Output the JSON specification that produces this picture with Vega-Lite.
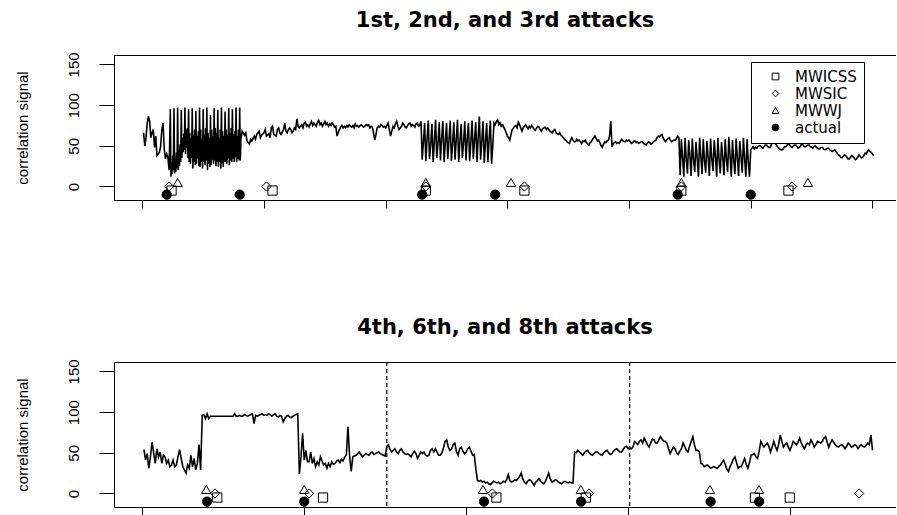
{
"$schema": "https://vega.github.io/schema/vega-lite/v6.json",
"padding": {"left": 14, "top": 9, "right": 0, "bottom": 0},
"autosize": {"type": "pad"},
"background": "white",
"config": {
 "view": {"stroke": null},
 "axis": {"grid": false, "domainColor": "black", "tickColor": "black", "labelColor": "black", "titleColor": "black", "labelFont": "Liberation Sans", "titleFont": "Liberation Sans", "labelFontSize": 15, "titleFontSize": 15, "titleFontWeight": "normal", "domainWidth": 1, "tickWidth": 1}
},
"datasets": {
 "top": [
{"t":1,"v":66},{"t":2,"v":50},{"t":3,"v":60},{"t":4,"v":78},{"t":5,"v":86},{"t":6,"v":80},{"t":7,"v":60},{"t":8,"v":66},{"t":9,"v":70},{"t":10,"v":48},{"t":11,"v":62},{"t":12,"v":38},{"t":13,"v":40},{"t":14,"v":42},{"t":15,"v":49},{"t":16,"v":70},{"t":17,"v":78},{"t":18,"v":46},{"t":19,"v":34},{"t":20,"v":40},{"t":21,"v":36},{"t":22,"v":20},
{"t":23,"v":95},{"t":23.5,"v":12},{"t":24,"v":30},{"t":24.5,"v":15},{"t":25,"v":38},{"t":25.5,"v":20},
{"t":26,"v":96},{"t":26.5,"v":16},{"t":27,"v":34},{"t":27.5,"v":18},{"t":28,"v":42},{"t":28.5,"v":22},
{"t":29,"v":97},{"t":29.5,"v":20},{"t":30,"v":45},{"t":30.5,"v":25},{"t":31,"v":52},{"t":31.5,"v":30},
{"t":32,"v":94},{"t":32.5,"v":35},{"t":33,"v":60},{"t":33.5,"v":42},{"t":34,"v":65},{"t":34.5,"v":45},
{"t":35,"v":97},{"t":35.5,"v":40},{"t":36,"v":70},{"t":36.5,"v":48},{"t":37,"v":72},{"t":37.5,"v":35},
{"t":38,"v":95},{"t":38.5,"v":30},{"t":39,"v":66},{"t":39.5,"v":28},{"t":40,"v":60},{"t":40.5,"v":35},
{"t":41,"v":96},{"t":41.5,"v":22},{"t":42,"v":64},{"t":42.5,"v":30},{"t":43,"v":70},{"t":43.5,"v":26},
{"t":44,"v":93},{"t":44.5,"v":28},{"t":45,"v":62},{"t":45.5,"v":34},{"t":46,"v":68},{"t":46.5,"v":25},
{"t":47,"v":97},{"t":47.5,"v":24},{"t":48,"v":70},{"t":48.5,"v":30},{"t":49,"v":58},{"t":49.5,"v":22},
{"t":50,"v":95},{"t":50.5,"v":30},{"t":51,"v":64},{"t":51.5,"v":26},{"t":52,"v":72},{"t":52.5,"v":32},
{"t":53,"v":97},{"t":53.5,"v":20},{"t":54,"v":66},{"t":54.5,"v":28},{"t":55,"v":60},{"t":55.5,"v":24},
{"t":56,"v":88},{"t":56.5,"v":26},{"t":57,"v":70},{"t":57.5,"v":33},{"t":58,"v":62},{"t":58.5,"v":28},
{"t":59,"v":96},{"t":59.5,"v":32},{"t":60,"v":72},{"t":60.5,"v":25},{"t":61,"v":66},{"t":61.5,"v":30},
{"t":62,"v":94},{"t":62.5,"v":24},{"t":63,"v":60},{"t":63.5,"v":30},{"t":64,"v":70},{"t":64.5,"v":22},
{"t":65,"v":97},{"t":65.5,"v":28},{"t":66,"v":68},{"t":66.5,"v":24},{"t":67,"v":62},{"t":67.5,"v":30},
{"t":68,"v":92},{"t":68.5,"v":30},{"t":69,"v":70},{"t":69.5,"v":28},{"t":70,"v":64},{"t":70.5,"v":34},
{"t":71,"v":96},{"t":71.5,"v":26},{"t":72,"v":66},{"t":72.5,"v":32},{"t":73,"v":72},{"t":73.5,"v":30},
{"t":74,"v":95},{"t":74.5,"v":34},{"t":75,"v":64},{"t":75.5,"v":30},{"t":76,"v":68},{"t":76.5,"v":36},
{"t":77,"v":97},{"t":77.5,"v":30},{"t":78,"v":62},{"t":78.5,"v":34},{"t":79,"v":70},{"t":79.5,"v":32},
{"t":80,"v":97},{"t":80.5,"v":32},{"t":81,"v":58},
{"t":82,"v":68},{"t":84,"v":63},{"t":85,"v":66},{"t":86,"v":56},{"t":88,"v":52},{"t":89,"v":58},{"t":90,"v":56},{"t":92,"v":62},{"t":93,"v":58},{"t":94,"v":64},{"t":96,"v":68},{"t":97,"v":60},{"t":98,"v":63},{"t":100,"v":66},{"t":101,"v":70},{"t":102,"v":62},{"t":104,"v":65},{"t":105,"v":60},{"t":106,"v":72},{"t":107,"v":74},{"t":108,"v":64},{"t":110,"v":62},{"t":111,"v":70},{"t":112,"v":72},{"t":113,"v":66},{"t":114,"v":64},{"t":116,"v":70},{"t":117,"v":78},{"t":118,"v":68},{"t":119,"v":66},{"t":120,"v":70},{"t":121,"v":72},{"t":122,"v":70},{"t":123,"v":66},{"t":124,"v":68},{"t":125,"v":72},{"t":126,"v":70},{"t":127,"v":83},{"t":128,"v":74},{"t":129,"v":72},{"t":130,"v":74},{"t":131,"v":76},{"t":132,"v":72},{"t":133,"v":78},{"t":134,"v":79},{"t":135,"v":74},{"t":136,"v":76},{"t":137,"v":73},{"t":138,"v":77},{"t":139,"v":80},{"t":140,"v":75},{"t":141,"v":78},{"t":142,"v":76},{"t":143,"v":74},{"t":144,"v":79},{"t":145,"v":81},{"t":146,"v":76},{"t":147,"v":78},{"t":148,"v":74},{"t":149,"v":77},{"t":150,"v":80},{"t":151,"v":76},{"t":152,"v":78},{"t":153,"v":74},{"t":154,"v":77},{"t":155,"v":75},{"t":156,"v":78},{"t":157,"v":76},{"t":158,"v":73},{"t":159,"v":74},{"t":160,"v":62},{"t":161,"v":66},{"t":162,"v":70},{"t":163,"v":73},{"t":164,"v":75},{"t":165,"v":72},{"t":166,"v":74},{"t":167,"v":72},{"t":168,"v":75},{"t":169,"v":73},{"t":170,"v":76},{"t":171,"v":74},{"t":172,"v":73},{"t":173,"v":75},{"t":174,"v":72},{"t":175,"v":77},{"t":176,"v":74},{"t":177,"v":75},{"t":178,"v":73},{"t":179,"v":75},{"t":180,"v":76},{"t":181,"v":74},{"t":182,"v":73},{"t":183,"v":74},{"t":184,"v":76},{"t":185,"v":75},{"t":186,"v":76},{"t":187,"v":72},{"t":188,"v":74},{"t":189,"v":73},{"t":190,"v":66},{"t":191,"v":57},{"t":192,"v":64},{"t":193,"v":72},{"t":194,"v":74},{"t":195,"v":73},{"t":196,"v":76},{"t":197,"v":75},{"t":198,"v":73},{"t":199,"v":74},{"t":200,"v":72},{"t":201,"v":75},{"t":202,"v":78},{"t":203,"v":70},{"t":204,"v":62},{"t":205,"v":68},{"t":206,"v":74},{"t":207,"v":72},{"t":208,"v":77},{"t":209,"v":80},{"t":210,"v":74},{"t":211,"v":70},{"t":212,"v":72},{"t":213,"v":74},{"t":214,"v":78},{"t":215,"v":76},{"t":216,"v":73},{"t":217,"v":72},{"t":218,"v":75},{"t":219,"v":77},{"t":220,"v":78},{"t":221,"v":74},{"t":222,"v":76},{"t":223,"v":75},{"t":224,"v":73},{"t":225,"v":77},{"t":226,"v":78},{"t":227,"v":74},{"t":228,"v":75},
{"t":229,"v":80},{"t":230,"v":33},{"t":231,"v":55},{"t":232,"v":78},{"t":233,"v":31},{"t":234,"v":58},{"t":235,"v":81},{"t":236,"v":34},{"t":237,"v":52},{"t":238,"v":77},{"t":239,"v":30},{"t":240,"v":56},{"t":241,"v":82},{"t":242,"v":35},{"t":243,"v":54},{"t":244,"v":79},{"t":245,"v":32},{"t":246,"v":60},{"t":247,"v":80},{"t":248,"v":30},{"t":249,"v":55},{"t":250,"v":78},{"t":251,"v":34},{"t":252,"v":57},{"t":253,"v":81},{"t":254,"v":31},{"t":255,"v":53},{"t":256,"v":79},{"t":257,"v":33},{"t":258,"v":58},{"t":259,"v":82},{"t":260,"v":30},{"t":261,"v":56},{"t":262,"v":77},{"t":263,"v":35},{"t":264,"v":54},{"t":265,"v":80},{"t":266,"v":32},{"t":267,"v":59},{"t":268,"v":78},{"t":269,"v":31},{"t":270,"v":55},{"t":271,"v":81},{"t":272,"v":34},{"t":273,"v":57},{"t":274,"v":79},{"t":275,"v":30},{"t":276,"v":60},{"t":277,"v":86},{"t":278,"v":33},{"t":279,"v":56},{"t":280,"v":80},{"t":281,"v":29},{"t":282,"v":55},{"t":283,"v":78},{"t":284,"v":30},{"t":285,"v":58},{"t":286,"v":81},{"t":287,"v":28},{"t":288,"v":50},{"t":289,"v":78},
{"t":290,"v":76},{"t":291,"v":80},{"t":292,"v":82},{"t":293,"v":76},{"t":294,"v":78},{"t":295,"v":74},{"t":296,"v":76},{"t":297,"v":73},{"t":298,"v":70},{"t":299,"v":66},{"t":300,"v":62},{"t":301,"v":60},{"t":302,"v":57},{"t":303,"v":64},{"t":304,"v":70},{"t":305,"v":72},{"t":306,"v":74},{"t":307,"v":75},{"t":308,"v":72},{"t":309,"v":79},{"t":310,"v":76},{"t":311,"v":72},{"t":312,"v":68},{"t":313,"v":72},{"t":314,"v":74},{"t":315,"v":76},{"t":316,"v":73},{"t":317,"v":71},{"t":318,"v":74},{"t":319,"v":72},{"t":320,"v":75},{"t":321,"v":73},{"t":322,"v":70},{"t":323,"v":69},{"t":324,"v":72},{"t":325,"v":74},{"t":326,"v":73},{"t":327,"v":70},{"t":328,"v":68},{"t":329,"v":71},{"t":330,"v":72},{"t":331,"v":73},{"t":332,"v":70},{"t":333,"v":72},{"t":334,"v":70},{"t":335,"v":68},{"t":336,"v":67},{"t":337,"v":66},{"t":338,"v":69},{"t":339,"v":70},{"t":340,"v":66},{"t":341,"v":65},{"t":342,"v":64},{"t":343,"v":66},{"t":344,"v":63},{"t":345,"v":62},{"t":346,"v":60},{"t":347,"v":58},{"t":348,"v":57},{"t":349,"v":55},{"t":350,"v":54},{"t":351,"v":53},{"t":352,"v":57},{"t":353,"v":60},{"t":354,"v":57},{"t":355,"v":55},{"t":356,"v":55},{"t":357,"v":58},{"t":358,"v":56},{"t":359,"v":57},{"t":360,"v":55},{"t":361,"v":53},{"t":362,"v":56},{"t":363,"v":55},{"t":364,"v":57},{"t":365,"v":54},{"t":366,"v":52},{"t":367,"v":51},{"t":368,"v":54},{"t":369,"v":55},{"t":370,"v":58},{"t":371,"v":60},{"t":372,"v":62},{"t":373,"v":59},{"t":374,"v":56},{"t":375,"v":57},{"t":376,"v":54},{"t":377,"v":50},{"t":378,"v":48},{"t":379,"v":52},{"t":380,"v":55},{"t":381,"v":54},{"t":382,"v":56},{"t":383,"v":57},{"t":384,"v":62},{"t":385,"v":80},{"t":386,"v":49},{"t":387,"v":53},{"t":388,"v":54},{"t":389,"v":55},{"t":390,"v":53},{"t":391,"v":54},{"t":392,"v":53},{"t":393,"v":56},{"t":394,"v":58},{"t":395,"v":56},{"t":396,"v":55},{"t":397,"v":55},{"t":398,"v":57},{"t":399,"v":56},{"t":400,"v":57},{"t":401,"v":55},{"t":402,"v":53},{"t":403,"v":54},{"t":404,"v":56},{"t":405,"v":56},{"t":406,"v":54},{"t":407,"v":55},{"t":408,"v":53},{"t":409,"v":54},{"t":410,"v":55},{"t":411,"v":55},{"t":412,"v":53},{"t":413,"v":52},{"t":414,"v":51},{"t":415,"v":53},{"t":416,"v":55},{"t":417,"v":54},{"t":418,"v":52},{"t":419,"v":53},{"t":420,"v":55},{"t":421,"v":56},{"t":422,"v":57},{"t":423,"v":60},{"t":424,"v":62},{"t":425,"v":61},{"t":426,"v":63},{"t":427,"v":64},{"t":428,"v":60},{"t":429,"v":57},{"t":430,"v":55},{"t":431,"v":57},{"t":432,"v":59},{"t":433,"v":60},{"t":434,"v":57},{"t":435,"v":55},{"t":436,"v":56},{"t":437,"v":57},{"t":438,"v":57},{"t":439,"v":59},{"t":440,"v":62},{"t":441,"v":60},
{"t":442,"v":14},{"t":443,"v":58},{"t":444,"v":36},{"t":445,"v":12},{"t":446,"v":60},{"t":447,"v":34},{"t":448,"v":16},{"t":449,"v":57},{"t":450,"v":38},{"t":451,"v":13},{"t":452,"v":59},{"t":453,"v":33},{"t":454,"v":18},{"t":455,"v":55},{"t":456,"v":35},{"t":457,"v":12},{"t":458,"v":60},{"t":459,"v":37},{"t":460,"v":15},{"t":461,"v":58},{"t":462,"v":32},{"t":463,"v":17},{"t":464,"v":56},{"t":465,"v":36},{"t":466,"v":13},{"t":467,"v":59},{"t":468,"v":34},{"t":469,"v":19},{"t":470,"v":57},{"t":471,"v":37},{"t":472,"v":12},{"t":473,"v":60},{"t":474,"v":33},{"t":475,"v":16},{"t":476,"v":55},{"t":477,"v":36},{"t":478,"v":14},{"t":479,"v":58},{"t":480,"v":34},{"t":481,"v":18},{"t":482,"v":61},{"t":483,"v":38},{"t":484,"v":12},{"t":485,"v":57},{"t":486,"v":33},{"t":487,"v":15},{"t":488,"v":59},{"t":489,"v":35},{"t":490,"v":13},{"t":491,"v":56},{"t":492,"v":37},{"t":493,"v":17},{"t":494,"v":60},{"t":495,"v":34},{"t":496,"v":12},{"t":497,"v":58},{"t":498,"v":30},{"t":499,"v":12},
{"t":500,"v":45},{"t":501,"v":47},{"t":502,"v":49},{"t":503,"v":46},{"t":504,"v":48},{"t":505,"v":47},{"t":506,"v":49},{"t":507,"v":50},{"t":508,"v":50},{"t":509,"v":48},{"t":510,"v":47},{"t":511,"v":49},{"t":512,"v":51},{"t":513,"v":51},{"t":514,"v":49},{"t":515,"v":48},{"t":516,"v":48},{"t":517,"v":52},{"t":518,"v":55},{"t":519,"v":57},{"t":520,"v":53},{"t":521,"v":51},{"t":522,"v":49},{"t":523,"v":47},{"t":524,"v":46},{"t":525,"v":45},{"t":526,"v":45},{"t":527,"v":47},{"t":528,"v":49},{"t":529,"v":49},{"t":530,"v":51},{"t":531,"v":53},{"t":532,"v":51},{"t":533,"v":49},{"t":534,"v":48},{"t":535,"v":50},{"t":536,"v":51},{"t":537,"v":51},{"t":538,"v":49},{"t":539,"v":47},{"t":540,"v":48},{"t":541,"v":50},{"t":542,"v":53},{"t":543,"v":51},{"t":544,"v":49},{"t":545,"v":49},{"t":546,"v":50},{"t":547,"v":51},{"t":548,"v":51},{"t":549,"v":49},{"t":550,"v":48},{"t":551,"v":47},{"t":552,"v":49},{"t":553,"v":50},{"t":554,"v":48},{"t":555,"v":47},{"t":556,"v":46},{"t":557,"v":47},{"t":558,"v":48},{"t":559,"v":48},{"t":560,"v":46},{"t":561,"v":45},{"t":562,"v":46},{"t":563,"v":47},{"t":564,"v":47},{"t":565,"v":45},{"t":566,"v":44},{"t":567,"v":43},{"t":568,"v":44},{"t":569,"v":45},{"t":570,"v":43},{"t":571,"v":41},{"t":572,"v":39},{"t":573,"v":38},{"t":574,"v":36},{"t":575,"v":35},{"t":576,"v":37},{"t":577,"v":39},{"t":578,"v":38},{"t":579,"v":36},{"t":580,"v":34},{"t":581,"v":34},{"t":582,"v":36},{"t":583,"v":38},{"t":584,"v":37},{"t":585,"v":35},{"t":586,"v":33},{"t":587,"v":34},{"t":588,"v":36},{"t":589,"v":39},{"t":590,"v":37},{"t":591,"v":35},{"t":592,"v":36},{"t":593,"v":38},{"t":594,"v":41},{"t":595,"v":40},{"t":596,"v":43},{"t":597,"v":45},{"t":598,"v":43},{"t":599,"v":42},{"t":600,"v":40},{"t":601,"v":38}
 ],
 "topm": [
{"t":20,"v":-10,"method":"actual"},{"t":80,"v":-10,"method":"actual"},{"t":230,"v":-10,"method":"actual"},{"t":290,"v":-10,"method":"actual"},{"t":440,"v":-10,"method":"actual"},{"t":500,"v":-10,"method":"actual"},
{"t":24,"v":-5,"method":"MWICSS"},{"t":107,"v":-5,"method":"MWICSS"},{"t":233,"v":-5,"method":"MWICSS"},{"t":314,"v":-5,"method":"MWICSS"},{"t":443,"v":-5,"method":"MWICSS"},{"t":531,"v":-5,"method":"MWICSS"},
{"t":22,"v":0,"method":"MWSIC"},{"t":102,"v":0,"method":"MWSIC"},{"t":233,"v":0,"method":"MWSIC"},{"t":314,"v":0,"method":"MWSIC"},{"t":443,"v":0,"method":"MWSIC"},{"t":534,"v":0,"method":"MWSIC"},
{"t":29,"v":5,"method":"MWWJ"},{"t":233,"v":5,"method":"MWWJ"},{"t":303,"v":5,"method":"MWWJ"},{"t":443,"v":5,"method":"MWWJ"},{"t":547,"v":5,"method":"MWWJ"}
 ],
 "bot": [
{"t":1,"v":54},{"t":2,"v":41},{"t":3,"v":49},{"t":4,"v":31},{"t":5,"v":45},{"t":6,"v":63},{"t":7,"v":50},{"t":8,"v":37},{"t":9,"v":55},{"t":10,"v":45},{"t":11,"v":51},{"t":12,"v":37},{"t":13,"v":47},{"t":14,"v":45},{"t":15,"v":37},{"t":16,"v":41},{"t":17,"v":33},{"t":18,"v":35},{"t":19,"v":41},{"t":20,"v":33},{"t":21,"v":35},{"t":22,"v":45},{"t":23,"v":54},{"t":24,"v":43},{"t":25,"v":33},{"t":26,"v":29},{"t":27,"v":25},{"t":28,"v":35},{"t":29,"v":31},{"t":30,"v":47},{"t":31,"v":33},{"t":32,"v":43},{"t":33,"v":29},{"t":34,"v":37},{"t":35,"v":60},{"t":36,"v":29},{"t":37,"v":96},{"t":38,"v":97},{"t":39,"v":92},{"t":40,"v":98},{"t":41,"v":92},{"t":42,"v":95},{"t":43,"v":95},{"t":50,"v":95},{"t":56,"v":95},{"t":57,"v":98},{"t":58,"v":95},{"t":59,"v":95},{"t":60,"v":96},{"t":61,"v":95},{"t":62,"v":95},{"t":63,"v":97},{"t":64,"v":96},{"t":65,"v":95},{"t":66,"v":96},{"t":67,"v":97},{"t":68,"v":98},{"t":69,"v":86},{"t":70,"v":96},{"t":71,"v":95},{"t":72,"v":96},{"t":73,"v":97},{"t":74,"v":98},{"t":75,"v":96},{"t":76,"v":97},{"t":77,"v":96},{"t":78,"v":98},{"t":79,"v":97},{"t":80,"v":95},{"t":81,"v":97},{"t":82,"v":98},{"t":83,"v":95},{"t":84,"v":94},{"t":85,"v":96},{"t":86,"v":95},{"t":87,"v":88},{"t":88,"v":92},{"t":89,"v":95},{"t":90,"v":96},{"t":91,"v":94},{"t":92,"v":93},{"t":93,"v":95},{"t":94,"v":96},{"t":95,"v":97},{"t":96,"v":98},{"t":97,"v":24},{"t":98,"v":45},{"t":99,"v":74},{"t":100,"v":41},{"t":101,"v":53},{"t":102,"v":39},{"t":103,"v":39},{"t":104,"v":51},{"t":105,"v":37},{"t":106,"v":43},{"t":107,"v":33},{"t":108,"v":39},{"t":109,"v":35},{"t":110,"v":45},{"t":111,"v":40},{"t":112,"v":35},{"t":113,"v":37},{"t":114,"v":31},{"t":115,"v":37},{"t":116,"v":33},{"t":117,"v":39},{"t":118,"v":36},{"t":119,"v":37},{"t":120,"v":40},{"t":121,"v":41},{"t":122,"v":38},{"t":123,"v":42},{"t":124,"v":40},{"t":125,"v":45},{"t":126,"v":47},{"t":127,"v":82},{"t":128,"v":47},{"t":129,"v":27},{"t":130,"v":45},{"t":131,"v":46},{"t":132,"v":47},{"t":133,"v":49},{"t":134,"v":51},{"t":135,"v":48},{"t":136,"v":45},{"t":137,"v":47},{"t":138,"v":49},{"t":139,"v":48},{"t":140,"v":47},{"t":141,"v":50},{"t":142,"v":51},{"t":143,"v":48},{"t":144,"v":49},{"t":145,"v":50},{"t":146,"v":51},{"t":147,"v":49},{"t":148,"v":48},{"t":149,"v":47},{"t":150,"v":46},{"t":151,"v":58},{"t":152,"v":60},{"t":153,"v":54},{"t":154,"v":51},{"t":155,"v":53},{"t":156,"v":55},{"t":157,"v":51},{"t":158,"v":49},{"t":159,"v":53},{"t":160,"v":55},{"t":161,"v":51},{"t":162,"v":49},{"t":163,"v":48},{"t":164,"v":49},{"t":165,"v":47},{"t":166,"v":45},{"t":167,"v":49},{"t":168,"v":52},{"t":169,"v":49},{"t":170,"v":43},{"t":171,"v":47},{"t":172,"v":51},{"t":173,"v":49},{"t":174,"v":51},{"t":175,"v":47},{"t":176,"v":46},{"t":177,"v":47},{"t":178,"v":53},{"t":179,"v":55},{"t":180,"v":51},{"t":181,"v":55},{"t":182,"v":51},{"t":183,"v":47},{"t":184,"v":47},{"t":185,"v":50},{"t":186,"v":56},{"t":187,"v":64},{"t":188,"v":66},{"t":189,"v":57},{"t":190,"v":53},{"t":191,"v":55},{"t":192,"v":60},{"t":193,"v":62},{"t":194,"v":52},{"t":195,"v":47},{"t":196,"v":55},{"t":197,"v":57},{"t":198,"v":52},{"t":199,"v":49},{"t":200,"v":51},{"t":201,"v":55},{"t":202,"v":57},{"t":203,"v":52},{"t":204,"v":47},{"t":205,"v":48},{"t":206,"v":30},{"t":207,"v":16},{"t":208,"v":15},{"t":209,"v":16},{"t":210,"v":14},{"t":211,"v":15},{"t":212,"v":13},{"t":213,"v":14},{"t":214,"v":12},{"t":215,"v":11},{"t":216,"v":13},{"t":217,"v":15},{"t":218,"v":14},{"t":219,"v":13},{"t":220,"v":14},{"t":221,"v":12},{"t":222,"v":13},{"t":223,"v":15},{"t":224,"v":14},{"t":225,"v":17},{"t":226,"v":23},{"t":227,"v":16},{"t":228,"v":14},{"t":229,"v":15},{"t":230,"v":17},{"t":231,"v":16},{"t":232,"v":18},{"t":233,"v":21},{"t":234,"v":25},{"t":235,"v":18},{"t":236,"v":14},{"t":237,"v":12},{"t":238,"v":15},{"t":239,"v":17},{"t":240,"v":16},{"t":241,"v":13},{"t":242,"v":10},{"t":243,"v":14},{"t":244,"v":16},{"t":245,"v":18},{"t":246,"v":15},{"t":247,"v":13},{"t":248,"v":12},{"t":249,"v":15},{"t":250,"v":20},{"t":251,"v":25},{"t":252,"v":18},{"t":253,"v":14},{"t":254,"v":15},{"t":255,"v":17},{"t":256,"v":16},{"t":257,"v":14},{"t":258,"v":13},{"t":259,"v":12},{"t":260,"v":14},{"t":261,"v":15},{"t":262,"v":14},{"t":263,"v":13},{"t":264,"v":14},{"t":265,"v":13},{"t":266,"v":13},{"t":267,"v":51},{"t":268,"v":50},{"t":269,"v":53},{"t":270,"v":51},{"t":271,"v":49},{"t":272,"v":47},{"t":273,"v":50},{"t":274,"v":52},{"t":275,"v":53},{"t":276,"v":50},{"t":277,"v":48},{"t":278,"v":47},{"t":279,"v":49},{"t":280,"v":51},{"t":281,"v":51},{"t":282,"v":49},{"t":283,"v":48},{"t":284,"v":47},{"t":285,"v":50},{"t":286,"v":52},{"t":287,"v":53},{"t":288,"v":50},{"t":289,"v":48},{"t":290,"v":49},{"t":291,"v":52},{"t":292,"v":54},{"t":293,"v":55},{"t":294,"v":53},{"t":295,"v":51},{"t":296,"v":51},{"t":297,"v":54},{"t":298,"v":57},{"t":299,"v":58},{"t":300,"v":55},{"t":301,"v":56},{"t":302,"v":55},{"t":303,"v":57},{"t":304,"v":64},{"t":305,"v":62},{"t":306,"v":60},{"t":307,"v":64},{"t":308,"v":66},{"t":309,"v":62},{"t":310,"v":68},{"t":311,"v":64},{"t":312,"v":60},{"t":313,"v":57},{"t":314,"v":62},{"t":315,"v":67},{"t":316,"v":66},{"t":317,"v":62},{"t":318,"v":62},{"t":319,"v":66},{"t":320,"v":70},{"t":321,"v":67},{"t":322,"v":64},{"t":323,"v":64},{"t":324,"v":62},{"t":325,"v":55},{"t":326,"v":49},{"t":327,"v":53},{"t":328,"v":57},{"t":329,"v":55},{"t":330,"v":50},{"t":331,"v":48},{"t":332,"v":52},{"t":333,"v":55},{"t":334,"v":62},{"t":335,"v":58},{"t":336,"v":53},{"t":337,"v":51},{"t":338,"v":58},{"t":339,"v":64},{"t":340,"v":70},{"t":341,"v":60},{"t":342,"v":53},{"t":343,"v":53},{"t":344,"v":51},{"t":345,"v":37},{"t":346,"v":36},{"t":347,"v":33},{"t":348,"v":34},{"t":349,"v":35},{"t":350,"v":33},{"t":351,"v":31},{"t":352,"v":32},{"t":353,"v":33},{"t":354,"v":32},{"t":355,"v":31},{"t":356,"v":33},{"t":357,"v":35},{"t":358,"v":38},{"t":359,"v":41},{"t":360,"v":36},{"t":361,"v":30},{"t":362,"v":27},{"t":363,"v":33},{"t":364,"v":37},{"t":365,"v":42},{"t":366,"v":45},{"t":367,"v":38},{"t":368,"v":31},{"t":369,"v":33},{"t":370,"v":33},{"t":371,"v":38},{"t":372,"v":43},{"t":373,"v":36},{"t":374,"v":31},{"t":375,"v":38},{"t":376,"v":47},{"t":377,"v":48},{"t":378,"v":49},{"t":379,"v":45},{"t":380,"v":43},{"t":381,"v":52},{"t":382,"v":64},{"t":383,"v":60},{"t":384,"v":57},{"t":385,"v":60},{"t":386,"v":62},{"t":387,"v":58},{"t":388,"v":51},{"t":389,"v":57},{"t":390,"v":64},{"t":391,"v":58},{"t":392,"v":53},{"t":393,"v":60},{"t":394,"v":72},{"t":395,"v":64},{"t":396,"v":57},{"t":397,"v":60},{"t":398,"v":62},{"t":399,"v":57},{"t":400,"v":53},{"t":401,"v":58},{"t":402,"v":64},{"t":403,"v":62},{"t":404,"v":60},{"t":405,"v":63},{"t":406,"v":68},{"t":407,"v":62},{"t":408,"v":58},{"t":409,"v":55},{"t":410,"v":60},{"t":411,"v":62},{"t":412,"v":60},{"t":413,"v":66},{"t":414,"v":62},{"t":415,"v":57},{"t":416,"v":60},{"t":417,"v":64},{"t":418,"v":63},{"t":419,"v":62},{"t":420,"v":64},{"t":421,"v":68},{"t":422,"v":70},{"t":423,"v":63},{"t":424,"v":57},{"t":425,"v":62},{"t":426,"v":66},{"t":427,"v":63},{"t":428,"v":60},{"t":429,"v":58},{"t":430,"v":57},{"t":431,"v":59},{"t":432,"v":60},{"t":433,"v":58},{"t":434,"v":55},{"t":435,"v":58},{"t":436,"v":62},{"t":437,"v":60},{"t":438,"v":57},{"t":439,"v":58},{"t":440,"v":60},{"t":441,"v":59},{"t":442,"v":55},{"t":443,"v":58},{"t":444,"v":60},{"t":445,"v":58},{"t":446,"v":57},{"t":447,"v":59},{"t":448,"v":62},{"t":449,"v":60},{"t":450,"v":72},{"t":451,"v":53}
 ],
 "botm": [
{"t":40,"v":-10,"method":"actual"},{"t":100,"v":-10,"method":"actual"},{"t":211,"v":-10,"method":"actual"},{"t":271,"v":-10,"method":"actual"},{"t":351,"v":-10,"method":"actual"},{"t":381,"v":-10,"method":"actual"},
{"t":39.5,"v":5,"method":"MWWJ"},{"t":100,"v":5,"method":"MWWJ"},{"t":210.4,"v":5,"method":"MWWJ"},{"t":270.8,"v":5,"method":"MWWJ"},{"t":350.6,"v":5,"method":"MWWJ"},{"t":380.9,"v":5,"method":"MWWJ"},
{"t":44.9,"v":0,"method":"MWSIC"},{"t":103,"v":0,"method":"MWSIC"},{"t":216.2,"v":0,"method":"MWSIC"},{"t":275.9,"v":0,"method":"MWSIC"},{"t":442.7,"v":0,"method":"MWSIC"},
{"t":46.3,"v":-5,"method":"MWICSS"},{"t":111.6,"v":-5,"method":"MWICSS"},{"t":218.7,"v":-5,"method":"MWICSS"},{"t":273.9,"v":-5,"method":"MWICSS"},{"t":378.4,"v":-5,"method":"MWICSS"},{"t":399.9,"v":-5,"method":"MWICSS"}
 ],
 "vlines": [{"t":151},{"t":301}]
},
"spacing": 107,
"resolve": {"scale": {"x": "independent", "y": "independent", "shape": "independent", "fill": "independent", "stroke": "independent"}, "legend": {"shape": "independent", "fill": "independent", "stroke": "independent"}},
"vconcat": [
 {
  "width": 782, "height": 145,
  "title": {"text": "1st, 2nd, and 3rd attacks", "font": "DejaVu Sans", "fontSize": 21, "fontWeight": "bold", "color": "black", "anchor": "middle", "frame": "group", "baseline": "alphabetic", "offset": 4},
  "layer": [
   {"data": {"name": "top"}, "mark": {"type": "line", "color": "black", "strokeWidth": 1.6},
    "encoding": {
     "x": {"field": "t", "type": "quantitative", "scale": {"domain": [-23.3, 619.4], "nice": false, "zero": false}, "axis": {"orient": "bottom", "values": [0,100,200,300,400,500,600], "labels": false, "tickSize": 8, "title": null}},
     "y": {"field": "v", "type": "quantitative", "scale": {"domain": [-16.6, 161.6], "nice": false, "zero": false}, "axis": {"values": [0,50,100,150], "title": "correlation signal", "labelAngle": 270, "labelAlign": "center", "labelBaseline": "bottom", "tickSize": 15, "labelPadding": 18, "titlePadding": 36}}
    }},
   {"data": {"name": "topm"}, "mark": {"type": "point", "filled": false, "strokeWidth": 1, "size": 85, "opacity": 1},
    "encoding": {
     "x": {"field": "t", "type": "quantitative", "axis": {"orient": "top", "ticks": false, "labels": false, "title": null, "domain": true, "minExtent": 0, "maxExtent": 0}},
     "y": {"field": "v", "type": "quantitative"},
     "shape": {"field": "method", "type": "nominal", "title": null, "scale": {"domain": ["MWICSS","MWSIC","MWWJ","actual"], "range": ["square","diamond","triangle-up","circle"]},
       "legend": {"orient": "none", "legendX": 637, "legendY": 7, "title": null, "strokeColor": "black", "fillColor": "white", "padding": 7, "symbolOffset": 10, "labelOffset": 12, "labelFont": "DejaVu Sans", "labelFontSize": 15, "labelColor": "black", "symbolSize": 45, "symbolStrokeWidth": 1, "rowPadding": 1}},
     "stroke": {"field": "method", "type": "nominal", "title": null, "scale": {"domain": ["MWICSS","MWSIC","MWWJ","actual"], "range": ["black","black","black","black"]},
       "legend": {"orient": "none", "legendX": 637, "legendY": 7, "title": null, "strokeColor": "black", "fillColor": "white", "padding": 7, "symbolOffset": 10, "labelOffset": 12, "labelFont": "DejaVu Sans", "labelFontSize": 15, "labelColor": "black", "symbolSize": 45, "symbolStrokeWidth": 1, "rowPadding": 1}},
     "fill": {"field": "method", "type": "nominal", "title": null, "scale": {"domain": ["MWICSS","MWSIC","MWWJ","actual"], "range": ["transparent","transparent","transparent","black"]},
       "legend": {"orient": "none", "legendX": 637, "legendY": 7, "title": null, "strokeColor": "black", "fillColor": "white", "padding": 7, "symbolOffset": 10, "labelOffset": 12, "labelFont": "DejaVu Sans", "labelFontSize": 15, "labelColor": "black", "symbolSize": 45, "symbolStrokeWidth": 1, "rowPadding": 1}}
    }}
  ],
  "resolve": {"axis": {"x": "independent"}}
 },
 {
  "width": 782, "height": 145,
  "title": {"text": "4th, 6th, and 8th attacks", "font": "DejaVu Sans", "fontSize": 21, "fontWeight": "bold", "color": "black", "anchor": "middle", "frame": "group", "baseline": "alphabetic", "offset": 4},
  "layer": [
   {"data": {"name": "bot"}, "mark": {"type": "line", "color": "black", "strokeWidth": 1.6},
    "encoding": {
     "x": {"field": "t", "type": "quantitative", "scale": {"domain": [-17.5, 465.5], "nice": false, "zero": false}, "axis": {"orient": "bottom", "values": [0,100,200,300,400], "labels": false, "tickSize": 8, "title": null}},
     "y": {"field": "v", "type": "quantitative", "scale": {"domain": [-16.6, 161.6], "nice": false, "zero": false}, "axis": {"values": [0,50,100,150], "title": "correlation signal", "labelAngle": 270, "labelAlign": "center", "labelBaseline": "bottom", "tickSize": 15, "labelPadding": 18, "titlePadding": 36}}
    }},
   {"data": {"name": "vlines"}, "mark": {"type": "rule", "color": "black", "strokeWidth": 1.2, "strokeDash": [4, 3]},
    "encoding": {"x": {"field": "t", "type": "quantitative", "axis": null}}},
   {"data": {"name": "botm"}, "mark": {"type": "point", "filled": false, "strokeWidth": 1, "size": 85, "opacity": 1},
    "encoding": {
     "x": {"field": "t", "type": "quantitative", "axis": {"orient": "top", "ticks": false, "labels": false, "title": null, "domain": true, "minExtent": 0, "maxExtent": 0}},
     "y": {"field": "v", "type": "quantitative"},
     "shape": {"field": "method", "type": "nominal", "scale": {"domain": ["MWICSS","MWSIC","MWWJ","actual"], "range": ["square","diamond","triangle-up","circle"]}, "legend": null},
     "stroke": {"field": "method", "type": "nominal", "scale": {"domain": ["MWICSS","MWSIC","MWWJ","actual"], "range": ["black","black","black","black"]}, "legend": null},
     "fill": {"field": "method", "type": "nominal", "scale": {"domain": ["MWICSS","MWSIC","MWWJ","actual"], "range": ["transparent","transparent","transparent","black"]}, "legend": null}
    }}
  ],
  "resolve": {"axis": {"x": "independent"}}
 }
]
}
